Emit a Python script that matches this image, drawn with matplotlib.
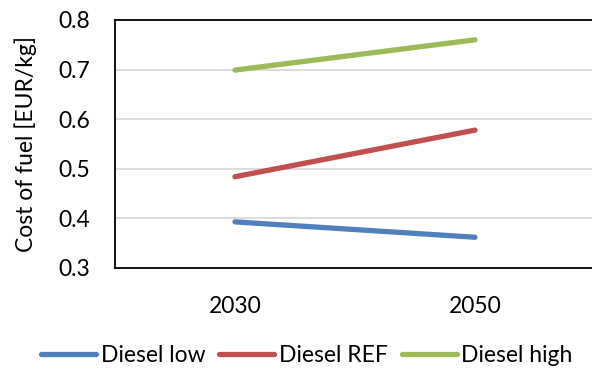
import matplotlib
matplotlib.use("Agg")
import matplotlib.pyplot as plt

years = ["2030", "2050"]
diesel_low = [0.393, 0.362]
diesel_ref = [0.484, 0.578]
diesel_high = [0.699, 0.760]

plt.rcParams['font.family'] = ['Lato', 'DejaVu Sans']

fig = plt.figure(figsize=(5.92, 3.72), dpi=100)
ax = fig.add_axes([115 / 592, 1 - 268 / 372, 480 / 592, 248 / 372])

x = range(len(years))
ax.plot(x, diesel_low, color='#4f81bd', lw=3.8, solid_capstyle='round', label='Diesel low')
ax.plot(x, diesel_ref, color='#c0504d', lw=3.8, solid_capstyle='round', label='Diesel REF')
ax.plot(x, diesel_high, color='#9bbb59', lw=3.8, solid_capstyle='round', label='Diesel high')

ax.set_xlim(-0.5, 1.5)
ax.set_ylim(0.3, 0.8)
ax.set_xticks(list(x))
ax.set_xticklabels(years)
ax.set_yticks([0.3, 0.4, 0.5, 0.6, 0.7, 0.8])
ax.set_yticklabels(['0.3', '0.4', '0.5', '0.6', '0.7', '0.8'])
ax.tick_params(axis='both', length=0, labelsize=16.5, colors='black')
ax.tick_params(axis='x', pad=20)
ax.tick_params(axis='y', pad=18)
ax.yaxis.grid(True, color='#d9d9d9', lw=1.3)
ax.set_axisbelow(True)
for s in ax.spines.values():
    s.set_linewidth(1.3)
    s.set_color('black')

ax.set_ylabel('Cost of fuel [EUR/kg]', fontsize=16.5, labelpad=15)

fig.legend(loc='center', bbox_to_anchor=(307 / 592, 1 - 356 / 372), ncol=3, frameon=False,
           fontsize=16.5, handlelength=2.4, handletextpad=0.2, columnspacing=0.6)

fig.savefig('out.png', dpi=100)
